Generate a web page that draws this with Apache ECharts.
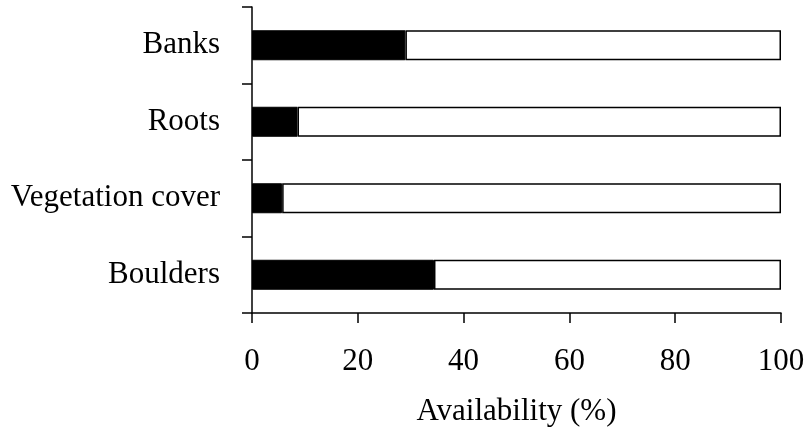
<!DOCTYPE html>
<html>
<head>
<meta charset="utf-8">
<script src="https://cdn.jsdelivr.net/npm/echarts@6/dist/echarts.min.js"></script>
<style>
  html, body { margin: 0; padding: 0; background: #fff; }
  #chart { width: 808px; height: 434px; }
</style>
</head>
<body>
<div id="chart"></div>
<script>
// Données
const categories = ['Banks', 'Roots', 'Vegetation cover', 'Boulders'];
const used = [29, 8.6, 5.7, 34.4];        // partie noire
const total = [100, 100, 100, 100];       // longueur totale de la barre
const xTicks = [0, 20, 40, 60, 80, 100];

const rest = used.map((v, i) => +(total[i] - v).toFixed(2));

const chart = echarts.init(document.getElementById('chart'), null, { renderer: 'canvas' });
const font = 'Liberation Serif';

const option = {
    animation: false,
    grid: { left: 252, right: 27, top: 7, bottom: 121 },
    xAxis: {
        type: 'value',
        min: xTicks[0],
        max: xTicks[xTicks.length - 1],
        interval: 20,
        name: 'Availability (%)',
        nameLocation: 'middle',
        nameGap: 83,
        nameTextStyle: { fontFamily: font, fontSize: 31, color: '#000' },
        axisLine: { show: true, lineStyle: { color: '#000', width: 1.5 } },
        axisTick: { show: true, length: 10, lineStyle: { color: '#000', width: 1.5 } },
        axisLabel: { fontFamily: font, fontSize: 31, color: '#000', margin: 33 },
        splitLine: { show: false }
    },
    yAxis: {
        type: 'category',
        data: categories,
        inverse: true,
        axisLine: { show: true, lineStyle: { color: '#000', width: 1.5 } },
        axisTick: { show: true, length: 10, alignWithLabel: false, lineStyle: { color: '#000', width: 1.5 } },
        axisLabel: { fontFamily: font, fontSize: 31, color: '#000', margin: 32 }
    },
    series: [
        {
            name: 'used',
            type: 'bar',
            stack: 'tot',
            data: used,
            barWidth: 30,
            itemStyle: { color: '#000', borderColor: '#000', borderWidth: 1 }
        },
        {
            name: 'rest',
            type: 'bar',
            stack: 'tot',
            data: rest,
            barWidth: 30,
            itemStyle: { color: '#fff', borderColor: '#000', borderWidth: 1.5 }
        }
    ]
};

chart.setOption(option);
window.addEventListener('resize', chart.resize);
</script>
</body>
</html>
